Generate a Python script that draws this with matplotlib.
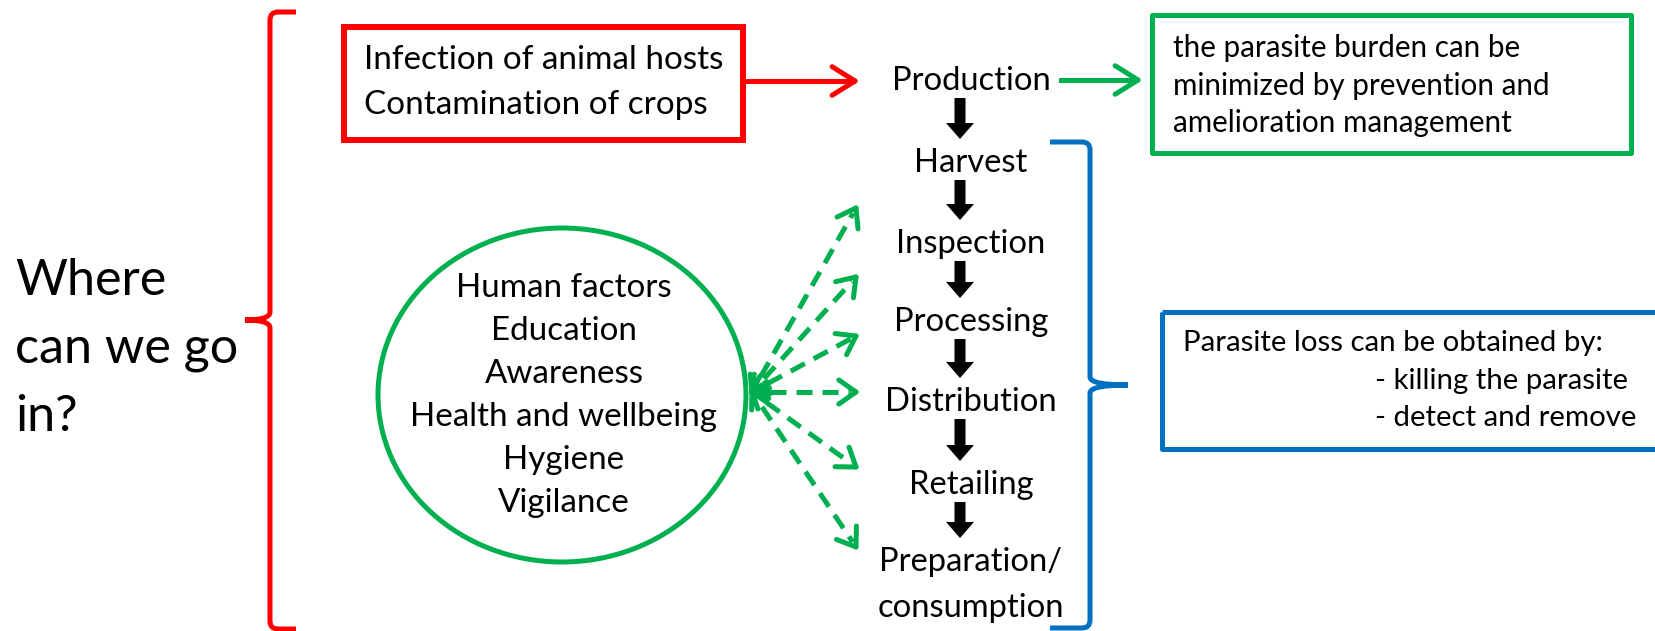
import matplotlib
matplotlib.use("Agg")
import matplotlib.pyplot as plt
from matplotlib.patches import Rectangle, Ellipse, PathPatch, FancyArrow
from matplotlib.path import Path
import numpy as np

# ---------------- content ----------------
question_lines = ["Where", "can we go", "in?"]
source_lines = ["Infection of animal hosts", "Contamination of crops"]
stages = ["Production", "Harvest", "Inspection", "Processing", "Distribution",
          "Retailing", "Preparation/\nconsumption"]
burden_lines = ["the parasite burden can be", "minimized by prevention and",
                "amelioration management"]
human_lines = ["Human factors", "Education", "Awareness", "Health and wellbeing",
               "Hygiene", "Vigilance"]
loss_head = "Parasite loss can be obtained by:"
loss_items = ["- killing the parasite", "- detect and remove"]
# stages reached by the human-factor arrows
human_targets = ["Harvest-Inspection", "Inspection-Processing", "Processing-Distribution",
                 "Distribution", "Distribution-Retailing", "Retailing-Preparation"]

RED = "#FF0000"
GREEN = "#00B050"
BLUE = "#0070C0"
FONT = "Lato"

W, H = 1656, 631
fig = plt.figure(figsize=(W / 100, H / 100), dpi=100)
ax = fig.add_axes([0, 0, 1, 1])
ax.set_xlim(0, W)
ax.set_ylim(H, 0)
ax.axis("off")
renderer = fig.canvas.get_renderer()


def fit(text, target_px):
    t = ax.text(0, 0, text, fontsize=20, family=FONT)
    w = t.get_window_extent(renderer).width
    t.remove()
    return 20 * target_px / w


def px2pt(px):
    return px * 72 / 100


def chevron(tip, direction, length=22, half_angle=38, color="k", lw=5):
    d = np.asarray(direction, float)
    d /= np.hypot(*d)
    a = np.deg2rad(half_angle)
    for s in (1, -1):
        rot = np.array([[np.cos(s * a), -np.sin(s * a)], [np.sin(s * a), np.cos(s * a)]])
        back = rot @ (-d) * length
        ax.plot([tip[0], tip[0] + back[0]], [tip[1], tip[1] + back[1]],
                color=color, lw=px2pt(lw), solid_capstyle="round")


# ---------------- left question ----------------
fs_q = fit("can we go", 223)
for i, s in enumerate(question_lines):
    ax.text(15, 295 + 68 * i, s, fontsize=fs_q, family=FONT, va="baseline", ha="left")

# red brace (tip pointing left)
bx = 270
rv = [(296, 12), (278, 12), (bx, 12), (bx, 20), (bx, 312), (bx, 320), (245, 320),
      (bx, 320), (bx, 328), (bx, 621), (bx, 629), (278, 629), (296, 629)]
rc = [Path.MOVETO, Path.LINETO, Path.CURVE3, Path.CURVE3, Path.LINETO, Path.CURVE3, Path.CURVE3,
      Path.CURVE3, Path.CURVE3, Path.LINETO, Path.CURVE3, Path.CURVE3, Path.LINETO]
ax.add_patch(PathPatch(Path(rv, rc), fill=False, edgecolor=RED, lw=px2pt(5)))

# ---------------- red source box ----------------
ax.add_patch(Rectangle((344, 27), 399, 113, fill=False, edgecolor=RED, lw=px2pt(6)))
fs_src = fit(source_lines[0], 360)
for i, s in enumerate(source_lines):
    ax.text(364, 69 + 45 * i, s, fontsize=fs_src, family=FONT, va="baseline", ha="left")
ax.plot([744, 853], [81, 81], color=RED, lw=px2pt(5))
chevron((855, 81), (1, 0), length=27, half_angle=32, color=RED, lw=5)

# ---------------- stages column ----------------
fs_st = fit("Production", 159)
stage_x = 971
stage_base = [90, 172, 253, 331, 411, 494, 571]
for s, b in zip(stages, stage_base):
    lines = s.split("\n")
    for j, ln in enumerate(lines):
        ax.text(stage_x, b + 46 * j, ln, fontsize=fs_st, family=FONT, va="baseline", ha="center")
for i in range(len(stages) - 1):
    y0 = stage_base[i] + 8
    y1 = stage_base[i + 1] - 33
    ax.add_patch(FancyArrow(960, y0, 0, y1 - y0, width=11, head_width=28, head_length=16,
                            length_includes_head=True, color="black", lw=0))

# green arrow to burden box
ax.plot([1061, 1136], [80, 80], color=GREEN, lw=px2pt(5))
chevron((1138, 80), (1, 0), length=27, half_angle=32, color=GREEN, lw=5)

# ---------------- green burden box ----------------
ax.add_patch(Rectangle((1152, 15), 479, 138, fill=False, edgecolor=GREEN, lw=px2pt(5),
                       joinstyle="round"))
fs_b = fit(burden_lines[1], 378)
for i, s in enumerate(burden_lines):
    ax.text(1173, 57 + 37.5 * i, s, fontsize=fs_b, family=FONT, va="baseline", ha="left")

# ---------------- blue brace ----------------
cx = 1090
bv = [(1050, 142), (1082, 142), (cx, 142), (cx, 150), (cx, 377), (cx, 385), (1128, 385),
      (cx, 385), (cx, 393), (cx, 620), (cx, 628), (1082, 628), (1050, 628)]
ax.add_patch(PathPatch(Path(bv, rc), fill=False, edgecolor=BLUE, lw=px2pt(5)))

# ---------------- blue loss box ----------------
ax.add_patch(Rectangle((1162, 312), 600, 137, fill=False, edgecolor=BLUE, lw=px2pt(5),
                       joinstyle="round"))
fs_l = fit(loss_head, 420)
ax.text(1183, 351, loss_head, fontsize=fs_l, family=FONT, va="baseline", ha="left")
for i, s in enumerate(loss_items):
    ax.text(1375, 389 + 37 * i, s, fontsize=fs_l, family=FONT, va="baseline", ha="left")

# ---------------- human factors ellipse ----------------
ax.add_patch(Ellipse((562, 395), 368, 334, fill=False, edgecolor=GREEN, lw=px2pt(5)))
fs_h = fit("Health and wellbeing", 308)
for i, s in enumerate(human_lines):
    ax.text(564, 297 + 43 * i, s, fontsize=fs_h, family=FONT, va="baseline", ha="center")

# dashed double-headed arrows
origin = np.array([752.0, 392.0])
target_y = [208, 277, 336, 392, 467, 547]
for ty, _ in zip(target_y, human_targets):
    tip = np.array([856.0, ty])
    d = tip - origin
    u = d / np.hypot(*d)
    p0 = origin + u * 18
    p1 = tip - u * 6
    ax.plot([p0[0], p1[0]], [p0[1], p1[1]], color=GREEN, lw=px2pt(5),
            dashes=(3.2, 2.0), solid_capstyle="butt")
    chevron(tip, u, length=21, half_angle=35, color=GREEN, lw=5)
    chevron(origin, -u, length=18, half_angle=35, color=GREEN, lw=5)

fig.savefig("out.png", dpi=100, facecolor="white")
